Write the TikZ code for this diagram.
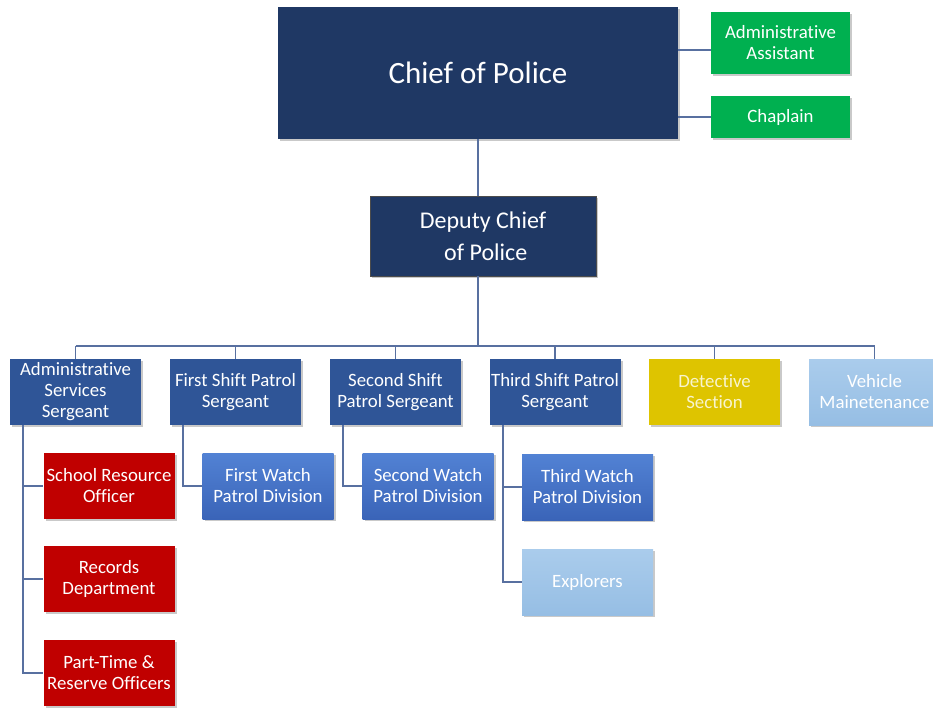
\documentclass[tikz,border=0pt]{standalone}
\usepackage{fontspec}
\setmainfont{Carlito}[Ligatures={NoCommon}]
\usetikzlibrary{shadows,calc}
\definecolor{navy}{RGB}{31,56,100}
\definecolor{serg}{RGB}{47,85,151}
\definecolor{watchtop}{RGB}{82,130,212}
\definecolor{watchbot}{RGB}{58,100,184}
\definecolor{lighttop}{RGB}{170,204,236}
\definecolor{lightbot}{RGB}{150,190,228}
\definecolor{redbox}{RGB}{192,0,0}
\definecolor{greenbox}{RGB}{0,176,80}
\definecolor{yellowbox}{RGB}{222,196,0}
\definecolor{linec}{RGB}{88,112,160}
\definecolor{paleyel}{RGB}{248,244,205}
\tikzset{
  x=1pt, y=-1pt,
  box/.style={draw=none, inner sep=1pt, align=center, text=white,
    drop shadow={shadow xshift=2pt, shadow yshift=-2pt, opacity=0.35, fill=black!60}},
  small/.style={box, minimum width=131pt, minimum height=66pt,
    font=\fontsize{18.8}{21}\selectfont},
  chiefbox/.style={box, fill=navy, minimum width=400pt, minimum height=132pt,
    font=\fontsize{31}{36}\selectfont},
  deputybox/.style={box, fill=navy, draw=black!70, minimum width=226pt, minimum height=80pt,
    font=\fontsize{24}{32}\selectfont},
  sergbox/.style={small, fill=serg},
  watchbox/.style={small, top color=watchtop, bottom color=watchbot},
  lightbox/.style={small, top color=lighttop, bottom color=lightbot},
  redb/.style={small, fill=redbox},
  greenb/.style={small, fill=greenbox, minimum width=139pt},
  yelb/.style={small, fill=yellowbox, text=paleyel},
  conn/.style={draw=linec, line width=1.6pt}
}
\begin{document}
\begin{tikzpicture}
\useasboundingbox (0,0) rectangle (933,709);
\fill[white] (0,0) rectangle (933,709);
% top
\node[chiefbox] (chief) at (478,73) {Chief of Police};
\node[greenb, minimum height=62pt] (aa) at (780.5,43) {Administrative\\Assistant};
\node[greenb, minimum height=42pt] (chap) at (780.5,117) {Chaplain};
\node[deputybox] (dep) at (483,236) {Deputy Chief\\\ of Police};
% sergeants
\node[sergbox] (adm) at (75.5,392) {Administrative\\Services\\Sergeant};
\node[sergbox] (s1) at (235.5,392) {First Shift Patrol\\Sergeant};
\node[sergbox] (s2) at (395.5,392) {Second Shift\\Patrol Sergeant};
\node[sergbox] (s3) at (555,392) {Third Shift Patrol\\Sergeant};
\node[yelb] (det) at (714.5,392) {Detective\\Section};
\node[lightbox] (veh) at (874.5,392) {Vehicle\\Mainetenance};
% children
\node[redb] (sro) at (109,486) {School Resource\\Officer};
\node[redb] (rec) at (109,579) {Records\\Department};
\node[redb] (pt) at (109,673) {Part-Time \&\\Reserve Officers};
\node[watchbox] (w1) at (268,486) {First Watch\\Patrol Division};
\node[watchbox] (w2) at (428,486) {Second Watch\\Patrol Division};
\node[watchbox] (w3) at (587.5,487) {Third Watch\\Patrol Division};
\node[lightbox] (exp) at (587.5,582) {Explorers};
% coordinates
\coordinate (bus) at (0,346);
\coordinate (aaj) at (711,50);
\coordinate (admx) at (23,0);
\coordinate (s1x) at (183,0);
\coordinate (s2x) at (343,0);
\coordinate (s3x) at (503,0);
% connectors
\draw[conn] (chief.east |- aaj) -- (aaj);
\draw[conn] (chief.east |- chap) -- (chap.west);
\draw[conn] (chief.south) -- (chief.south |- dep.north);
\draw[conn] (chief.south |- dep.south) -- (chief.south |- bus);
\draw[conn] (adm.north |- bus) -- (veh.north |- bus);
\foreach \n in {adm,s1,s2,s3,det,veh}{
  \draw[conn] (\n.north |- bus) -- (\n.north);
}
\draw[conn] (admx |- adm.south) -- (admx |- pt) -- (pt.west);
\draw[conn] (admx |- sro) -- (sro.west);
\draw[conn] (admx |- rec) -- (rec.west);
\draw[conn] (s1x |- s1.south) -- (s1x |- w1) -- (w1.west);
\draw[conn] (s2x |- s2.south) -- (s2x |- w2) -- (w2.west);
\draw[conn] (s3x |- s3.south) -- (s3x |- exp) -- (exp.west);
\draw[conn] (s3x |- w3) -- (w3.west);
\end{tikzpicture}
\end{document}
